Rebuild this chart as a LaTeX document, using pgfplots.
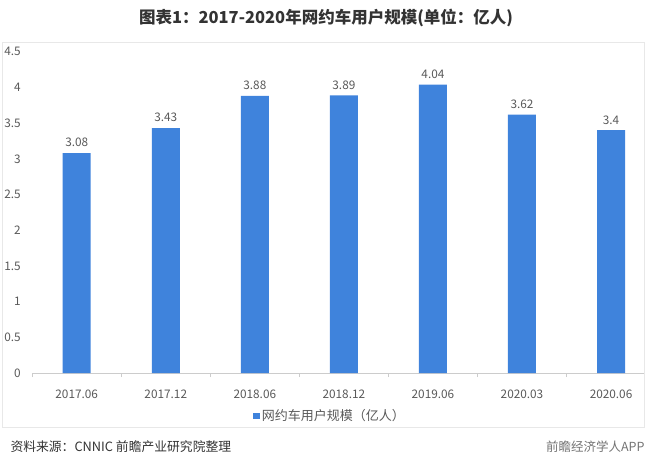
\documentclass[border=0pt]{standalone}
\usepackage{pgfplots}
\pgfplotsset{compat=1.18}
\usepackage{fontspec}
\setmainfont{Noto Sans CJK SC}
\definecolor{barblue}{HTML}{3F83DC}
\definecolor{ticktext}{HTML}{595959}
\definecolor{titletext}{HTML}{333333}
\begin{document}
\begin{tikzpicture}
\path[use as bounding box] (0,0) rectangle (648pt,467pt);
\draw[color=black!9, line width=0.8pt] (2pt,40pt) rectangle (644pt,425pt);
\node[font=\fontsize{16.5}{19}\selectfont\bfseries, text=titletext] at (326pt,449pt) {图表1：2017-2020年网约车用户规模(单位：亿人)};
\begin{axis}[
  at={(32.2pt,94pt)}, anchor=south west,
  scale only axis, width=611.8pt, height=321.3pt,
  xmin=-0.5, xmax=6.37, ymin=0, ymax=4.5,
  axis y line*=left,
  y axis line style={draw=none},
  axis x line*=bottom,
  x axis line style={color=black!20, line width=0.7pt},
  axis line style={-},
  ytick={0,0.5,...,4.5},
  xtick={0,...,6},
  xticklabels={2017.06,2017.12,2018.06,2018.12,2019.06,2020.03,2020.06},
  minor xtick={-0.5,0.5,...,6.5},
  major tick length=0pt,
  minor tick length=4pt,
  tick align=outside,
  minor tick style={color=black!20, line width=0.7pt},
  tick label style={font=\fontsize{11.8}{13}\selectfont, text=ticktext},
  /pgf/number format/assume math mode=true,
  xticklabel style={yshift=-13pt},
  yticklabel style={/pgf/number format/fixed, xshift=-8pt},
  ybar, bar width=28pt,
  nodes near coords,
  nodes near coords style={font=\fontsize{11.8}{13}\selectfont, text=ticktext, yshift=2.5pt},
  point meta=explicit symbolic,
  legend style={at={(0.487,-0.134)}, anchor=center, draw=none, fill=none, font=\fontsize{13}{15}\selectfont, text=ticktext},
  legend image code/.code={\fill[barblue] (0pt,-3pt) rectangle (6.5pt,3.5pt);},
  clip=false,
]
\addplot[fill=barblue, draw=none] coordinates {
  (0,3.08) [3.08] (1,3.43) [3.43] (2,3.88) [3.88] (3,3.89) [3.89]
  (4,4.04) [4.04] (5,3.62) [3.62] (6,3.40) [3.4]
};
\addlegendentry{网约车用户规模（亿人）}
\end{axis}
\node[anchor=west, font=\fontsize{12.8}{14}\selectfont, text=titletext] at (7pt,20pt) {资料来源：CNNIC 前瞻产业研究院整理};
\node[anchor=east, font=\fontsize{12.5}{14}\selectfont, text=black!55] at (648pt,20pt) {前瞻经济学人APP};
\end{tikzpicture}
\end{document}
